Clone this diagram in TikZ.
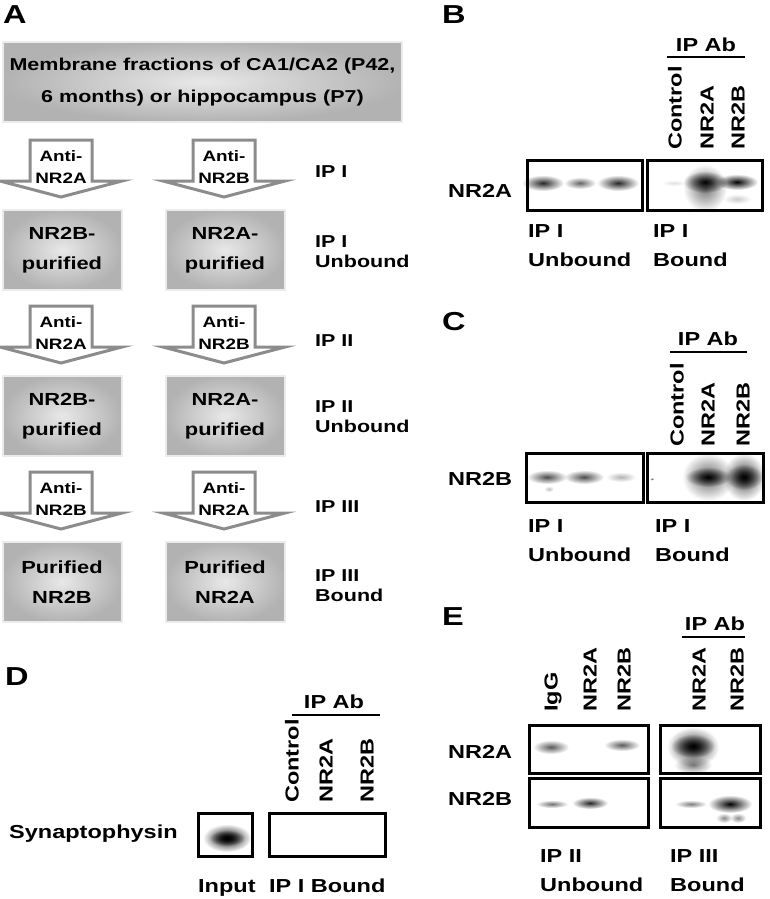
\documentclass[tikz,border=0pt]{standalone}
\usepackage{fontspec}
\setmainfont{Liberation Sans}[FakeStretch=1.25]
\usepackage{tikz}
\usetikzlibrary{positioning}

\tikzstyle{panel} = [anchor=north west, inner sep=0pt, font=\bfseries\fontsize{26}{26}\selectfont]
\tikzstyle{hdr} = [rectangle, minimum width=399pt, minimum height=80pt, inner color=black!9, outer color=black!30, draw=black!8, line width=2pt, align=center, font=\bfseries\fontsize{17.2}{32}\selectfont]
\tikzstyle{purif} = [rectangle, minimum width=119pt, minimum height=80pt, inner color=black!9, outer color=black!30, draw=black!8, line width=2pt, align=center, font=\bfseries\fontsize{17.5}{30}\selectfont]
\tikzstyle{abtext} = [inner sep=0pt, align=center, font=\bfseries\fontsize{15.1}{22}\selectfont]
\tikzstyle{iplab} = [anchor=north west, inner sep=0pt, align=left, font=\bfseries\fontsize{17.2}{20}\selectfont]
\tikzstyle{sublab} = [anchor=north west, inner sep=0pt, align=left, font=\bfseries\fontsize{18.8}{29}\selectfont]
\tikzstyle{rowlab} = [anchor=base west, inner sep=0pt, font=\bfseries\fontsize{18.8}{22}\selectfont]
\tikzstyle{ipab} = [anchor=base, inner sep=0pt, font=\bfseries\fontsize{18.8}{22}\selectfont]
\tikzstyle{lane} = [rotate=90, anchor=west, inner sep=0pt, font=\bfseries\fontsize{18.8}{22}\selectfont]
\tikzstyle{blot} = [rectangle, draw=black, line width=3pt, inner sep=0pt]
\tikzset{abody/.style={draw=black!45, line width=3pt, fill=white, line join=miter},
  abline/.style={line width=1.5pt}}

% block arrow with its antibody text: x, top, name, text
\newcommand{\abarrow}[4]{%
  \draw[abody] (#1-31,#2) -- (#1+31,#2) -- (#1+31,#2+41) -- (#1+61,#2+41) -- (#1,#2+57) -- (#1-61,#2+41) -- (#1-31,#2+41) -- cycle;
  \node (#3) [abtext] at (#1,#2+27) {#4};}
% blot band: x, y, x radius, y radius, darkness
\newcommand{\band}[5]{\shade[inner color=black!#5, outer color=white] (#1,#2) ellipse [x radius=#3pt, y radius=#4pt];}

\begin{document}
\begin{tikzpicture}[x=1pt, y=-1pt, node distance=166pt]
\fill[white] (0,0) rectangle (769,899);
\useasboundingbox (0,0) rectangle (769,899);

% A
\node (pA) [panel] at (3,5) {A};
\node (mem) [hdr] at (202.5,82) {Membrane fractions of CA1/CA2 (P42,\\6 months) or hippocampus (P7)};
\node (ub1) [purif] at (62,250) {NR2B-\\purified};
\node (ua1) [purif, right of=ub1, xshift=-3pt] {NR2A-\\purified};
\node (ub2) [purif, below of=ub1] {NR2B-\\purified};
\node (ua2) [purif, below of=ua1] {NR2A-\\purified};
\node (pb3) [purif, below of=ub2] {Purified\\NR2B};
\node (pa3) [purif, below of=ua2] {Purified\\NR2A};

\abarrow{61}{140}{ar11}{Anti-\\NR2A}
\abarrow{224}{140}{ar12}{Anti-\\NR2B}
\abarrow{61}{306}{ar21}{Anti-\\NR2A}
\abarrow{224}{306}{ar22}{Anti-\\NR2B}
\abarrow{61}{472}{ar31}{Anti-\\NR2B}
\abarrow{224}{472}{ar32}{Anti-\\NR2A}

\node (ip1) [iplab] at (315,165.7) {IP I};
\node (ip1u) [iplab] at (315,235.7) {IP I\\Unbound};
\node (ip2) [iplab] at (315,334.7) {IP II};
\node (ip2u) [iplab] at (315,400.7) {IP II\\Unbound};
\node (ip3) [iplab] at (315,500.7) {IP III};
\node (ip3b) [iplab] at (315,569.7) {IP III\\Bound};

% B
\node (pB) [panel] at (442,5) {B};
\node (abB) [ipab] at (706,52) {IP Ab};
\draw[abline] (667,57) -- (745,57);
\node (bCtl) [lane] at (675,150) {Control};
\node (bN2A) [lane] at (707,150) {NR2A};
\node (bN2B) [lane] at (738,150) {NR2B};
\node (bRow) [rowlab] at (448,197) {NR2A};
\begin{scope}[blend mode=multiply]
\band{543}{183}{21}{8}{85}
\band{580}{183}{16}{6}{60}
\band{618}{183}{21}{8}{85}
\band{674}{183}{13}{3}{12}
\band{705}{188}{22}{24}{55}
\band{705}{182}{22}{11}{100}
\band{737}{182}{21}{8}{100}
\band{737}{199}{14}{5}{20}
\end{scope}
\node (bU) [blot, minimum width=115pt, minimum height=50pt] at (584.5,185) {};
\node (bB) [blot, minimum width=115pt, minimum height=50pt] at (704.5,185) {};
\node (bUl) [sublab] at (528,224.5) {IP I\\Unbound};
\node (bBl) [sublab] at (653,224.5) {IP I\\Bound};

% C
\node (pC) [panel] at (442,312) {C};
\node (abC) [ipab] at (708,345) {IP Ab};
\draw[abline] (670,352) -- (747,352);
\node (cCtl) [lane] at (677,447) {Control};
\node (cN2A) [lane] at (708,447) {NR2A};
\node (cN2B) [lane] at (743,447) {NR2B};
\node (cRow) [rowlab] at (448,485) {NR2B};
\begin{scope}[blend mode=multiply]
\band{547}{477}{20}{7}{70}
\band{584}{477}{20}{7}{70}
\band{621}{477}{15}{5}{30}
\band{549}{489}{5}{3}{25}
\band{652}{479}{2}{1.5}{60}
\band{708}{477}{26}{24}{60}
\band{708}{477}{23}{10}{100}
\band{744}{477}{21}{24}{75}
\band{744}{477}{19}{13}{100}
\end{scope}
\node (cU) [blot, minimum width=117pt, minimum height=49pt] at (584.5,477.5) {};
\node (cB) [blot, minimum width=116pt, minimum height=49pt] at (705,477.5) {};
\node (cUl) [sublab] at (528,519.5) {IP I\\Unbound};
\node (cBl) [sublab] at (655,519.5) {IP I\\Bound};

% D
\node (pD) [panel] at (5,667) {D};
\node (abD) [ipab] at (334,708) {IP Ab};
\draw[abline] (292,715) -- (380,715);
\node (dCtl) [lane] at (292,803) {Control};
\node (dN2A) [lane] at (326,803) {NR2A};
\node (dN2B) [lane] at (367,803) {NR2B};
\node (dRow) [rowlab] at (9,838) {Synaptophysin};
\begin{scope}[blend mode=multiply]
\band{227}{838}{24}{14}{100}
\band{227}{838}{18}{8}{100}
\end{scope}
\node (dIn) [blot, minimum width=54pt, minimum height=43pt] at (225,834.5) {};
\node (dB) [blot, minimum width=116pt, minimum height=43pt] at (327,834.5) {};
\node (dInl) [rowlab] at (198,892) {Input};
\node (dBl) [rowlab] at (269,892) {IP I Bound};

% E
\node (pE) [panel] at (442,607) {E};
\node (abE) [ipab] at (715,630) {IP Ab};
\draw[abline] (682,637) -- (745,637);
\node (eIgG) [lane] at (553,712) {IgG};
\node (eN2A) [lane] at (590,712) {NR2A};
\node (eN2B) [lane] at (624,712) {NR2B};
\node (eN2A3) [lane] at (699,712) {NR2A};
\node (eN2B3) [lane] at (737,712) {NR2B};
\node (eRowA) [rowlab] at (448,758) {NR2A};
\node (eRowB) [rowlab] at (448,805) {NR2B};
\begin{scope}[blend mode=multiply]
\band{551}{747}{18}{7}{65}
\band{622}{745}{18}{6}{65}
\band{693}{747}{26}{20}{80}
\band{693}{765}{19}{9}{50}
\band{693}{746}{22}{12}{100}
\band{552}{804}{16}{4}{55}
\band{590}{803}{18}{6}{85}
\band{691}{804}{16}{4}{50}
\band{730}{804}{22}{9}{100}
\band{724}{818}{8}{5}{45}
\band{738}{818}{8}{5}{45}
\end{scope}
\node (eUA) [blot, minimum width=119pt, minimum height=48pt] at (588.5,749) {};
\node (eBA) [blot, minimum width=100pt, minimum height=48pt] at (710,749) {};
\node (eUB) [blot, minimum width=119pt, minimum height=49pt] at (588.5,802.5) {};
\node (eBB) [blot, minimum width=100pt, minimum height=49pt] at (710,802.5) {};
\node (eUl) [sublab] at (540,849.5) {IP II\\Unbound};
\node (eBl) [sublab] at (670,849.5) {IP III\\Bound};
\end{tikzpicture}
\end{document}
